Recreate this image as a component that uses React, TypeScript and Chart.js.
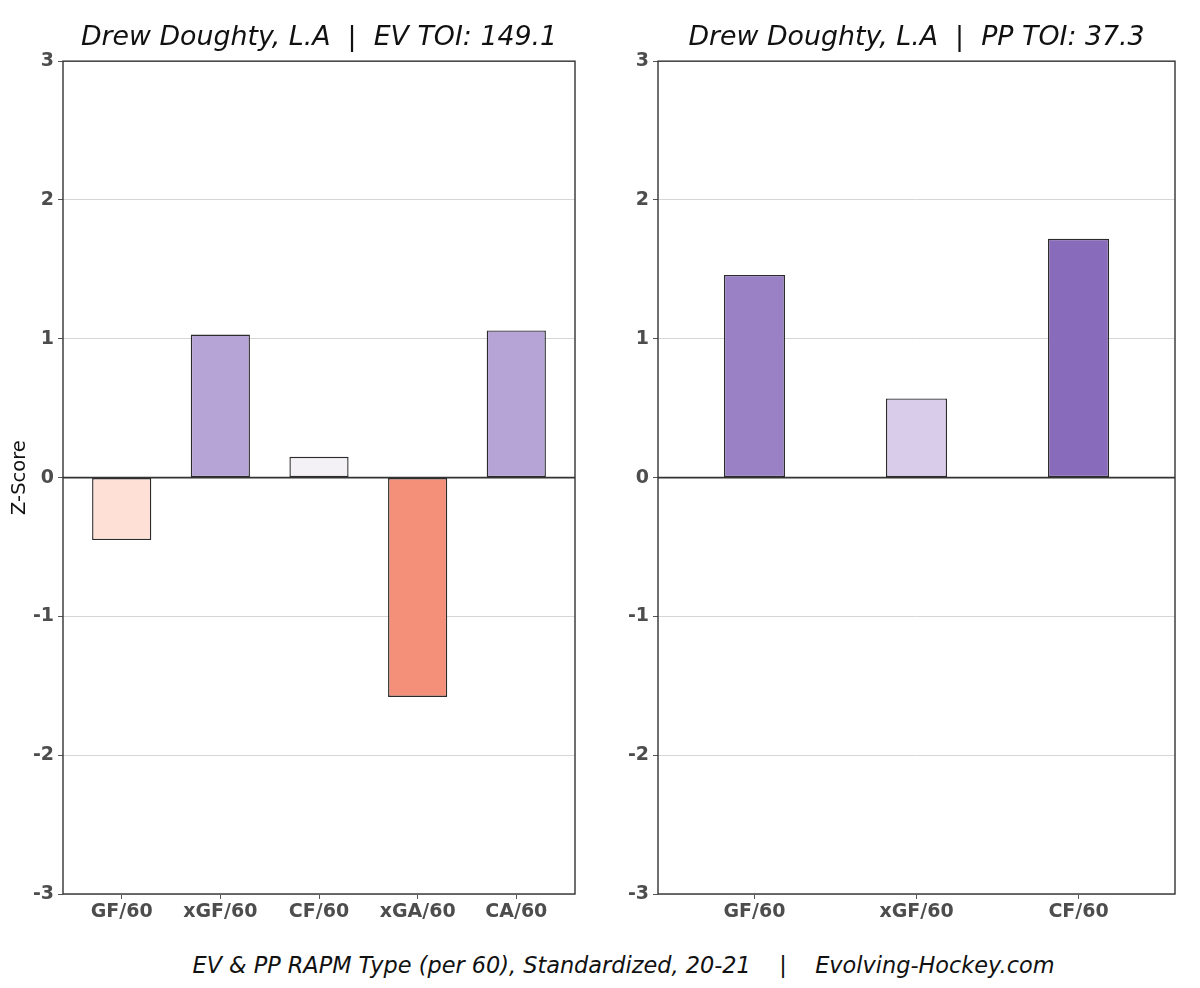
import React, { useEffect, useRef } from 'react';
import { Chart, registerables } from 'chart.js';

Chart.register(...registerables);

// even strength panel
const evCategories = ['GF/60', 'xGF/60', 'CF/60', 'xGA/60', 'CA/60'];
const evValues = [-0.45, 1.03, 0.15, -1.58, 1.06];
const evColors = ['#fee0d6', '#b7a4d7', '#f3f1f6', '#f4907a', '#b7a4d7'];

// power play panel
const ppCategories = ['GF/60', 'xGF/60', 'CF/60'];
const ppValues = [1.46, 0.57, 1.72];
const ppColors = ['#9a80c5', '#d9cbea', '#886bba'];

const yMin = -3;
const yMax = 3;

const FONT = "'DejaVu Sans', sans-serif";
Chart.defaults.font.family = FONT;

// frame round the plot area and the zero line on top of the bars
const framePlugin = {
    id: 'frame',
    afterDatasetsDraw(chart: any) {
        const { ctx, chartArea: a, scales } = chart;
        const y0 = scales.y.getPixelForValue(0);
        ctx.save();
        ctx.strokeStyle = '#333';
        ctx.lineWidth = 1.6;
        ctx.beginPath();
        ctx.moveTo(a.left, y0);
        ctx.lineTo(a.right, y0);
        ctx.stroke();
        ctx.lineWidth = 1.4;
        ctx.strokeRect(a.left, a.top, a.right - a.left, a.bottom - a.top);
        ctx.restore();
    },
};

interface PanelProps {
    title: string;
    categories: string[];
    values: number[];
    colors: string[];
    barFrac: number;
    left: number;
    yAxisWidth: number;
    showYTitle: boolean;
}

const Panel: React.FC<PanelProps> = ({ title, categories, values, colors, barFrac, left, yAxisWidth, showYTitle }) => {
    const ref = useRef<HTMLCanvasElement | null>(null);

    useEffect(() => {
        if (!ref.current) return;
        const margin = 0.595;
        const chart = new Chart(ref.current, {
            type: 'bar',
            data: {
                datasets: [
                    {
                        data: values.map((v, i) => ({ x: i, y: v })),
                        backgroundColor: colors,
                        borderColor: '#2b2b2b',
                        borderWidth: 1.4,
                        borderSkipped: false,
                        barPercentage: barFrac,
                        categoryPercentage: 1,
                    },
                ],
            },
            options: {
                animation: false,
                responsive: false,
                layout: { padding: { left: 0, right: 25, top: 0, bottom: 0 } },
                plugins: {
                    legend: { display: false },
                    tooltip: { enabled: false },
                    title: {
                        display: true,
                        text: title,
                        fullSize: false,
                        color: '#111',
                        font: { size: 26.8, style: 'italic', weight: 'normal' },
                        padding: { top: 22, bottom: 7 },
                    },
                },
                scales: {
                    x: {
                        type: 'linear',
                        min: -margin,
                        max: categories.length - 1 + margin,
                        offset: false,
                        afterBuildTicks: (scale: any) => {
                            scale.ticks = categories.map((_, i) => ({ value: i }));
                        },
                        afterFit: (scale: any) => {
                            scale.height = 46;
                        },
                        ticks: {
                            callback: (v: any) => categories[Math.round(Number(v))] ?? '',
                            autoSkip: false,
                            maxRotation: 0,
                            color: '#4d4d4d',
                            padding: 2,
                            font: { size: 19, weight: 'bold' },
                        },
                        grid: { drawOnChartArea: false, tickColor: '#555', tickLength: 5, offset: false },
                        border: { display: false },
                    },
                    y: {
                        min: yMin,
                        max: yMax,
                        afterFit: (scale: any) => {
                            scale.width = yAxisWidth;
                        },
                        ticks: {
                            stepSize: 1,
                            color: '#4d4d4d',
                            padding: 4,
                            font: { size: 19, weight: 'bold' },
                        },
                        grid: { color: '#d6d6d6', lineWidth: 1, tickColor: '#555', tickLength: 5 },
                        border: { display: false },
                        title: {
                            display: showYTitle,
                            text: 'Z-Score',
                            color: '#111',
                            font: { size: 19.5 },
                            padding: { top: 8, bottom: 0 },
                        },
                    },
                },
            } as any,
            plugins: [framePlugin],
        });
        return () => {
            chart.destroy();
        };
    }, [title, categories, values, colors, barFrac, yAxisWidth, showYTitle]);

    return (
        <canvas
            ref={ref}
            width={600}
            height={940}
            style={{ position: 'absolute', left, top: 0, width: 600, height: 940 }}
        />
    );
};

const App: React.FC = () => {
    return (
        <div style={{ position: 'absolute', left: 0, top: 0, width: 1200, height: 988, background: '#fff', overflow: 'hidden' }}>
            <Panel
                title={'Drew Doughty, L.A  |  EV TOI: 149.1'}
                categories={evCategories}
                values={evValues}
                colors={evColors}
                barFrac={0.6}
                left={0}
                yAxisWidth={63}
                showYTitle={true}
            />
            <Panel
                title={'Drew Doughty, L.A  |  PP TOI: 37.3'}
                categories={ppCategories}
                values={ppValues}
                colors={ppColors}
                barFrac={0.377}
                left={600}
                yAxisWidth={58}
                showYTitle={false}
            />
            <div
                style={{
                    position: 'absolute',
                    left: 0,
                    top: 952,
                    width: 1247,
                    textAlign: 'center',
                    whiteSpace: 'pre',
                    fontFamily: FONT,
                    fontStyle: 'italic',
                    fontSize: 22.4,
                    lineHeight: '26px',
                    color: '#111',
                }}
            >
                {'EV & PP RAPM Type (per 60), Standardized, 20-21    |    Evolving-Hockey.com'}
            </div>
        </div>
    );
};

export default App;
